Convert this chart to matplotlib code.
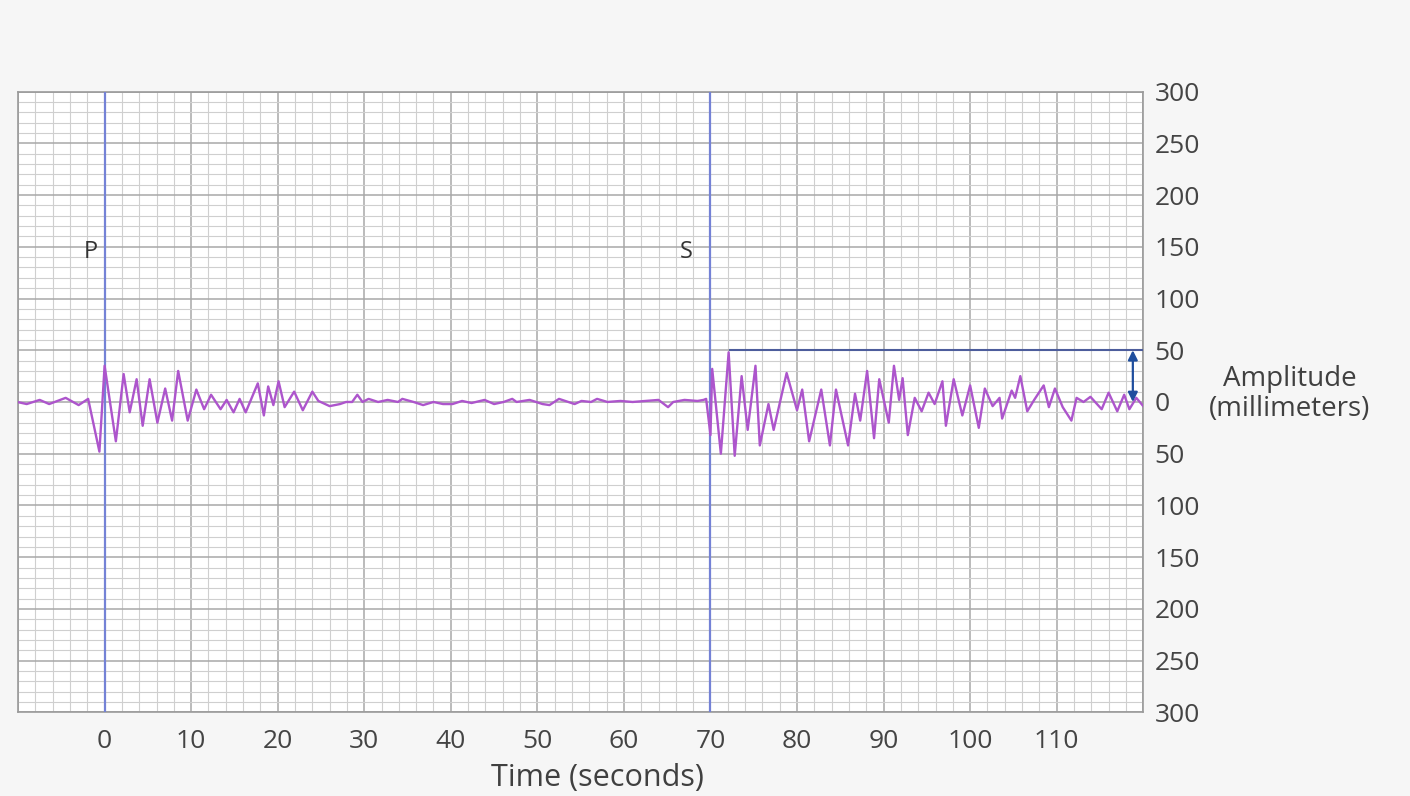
import numpy as np
import matplotlib
matplotlib.use("Agg")
import matplotlib.pyplot as plt

plt.rcParams['font.family'] = ['Open Sans', 'DejaVu Sans']

# Seismogram trace: time (s) and amplitude (mm)
t_p = [-10.1, -9.0, -7.5, -6.4, -4.5, -3.0, -1.9, -0.6, 0.0, 1.3, 2.2, 2.9, 3.7,
       4.4, 5.2, 6.1, 7.0, 7.8, 8.5, 9.6, 10.6, 11.5, 12.3, 13.4, 14.1, 14.9,
       15.6, 16.3, 17.7, 18.4, 18.9, 19.5, 20.1, 20.8, 21.9, 22.9, 24.0, 24.7]
a_p = [0, -2, 2, -2, 4, -3, 3, -48, 35, -38, 27, -10, 22,
       -23, 22, -20, 13, -18, 30, -18, 12, -7, 7, -7, 2, -10,
       3, -10, 18, -13, 15, -3, 20, -5, 10, -8, 10, 1]

t_quiet = [26.0, 27.2, 27.9, 28.6, 29.2, 29.8, 30.5, 31.6, 32.7, 33.9, 34.4, 35.7,
           36.8, 38.0, 39.1, 40.2, 41.3, 42.4, 43.9, 45.0, 46.1, 47.1, 47.6, 49.1,
           50.6, 51.4, 52.5, 53.6, 54.3, 55.1, 56.2, 56.9, 58.1, 59.6, 61.0, 62.5,
           64.0, 65.1, 65.7, 67.0, 68.5, 69.2]
a_quiet = [-4, -2, 0, 0, 7, 0, 3, 0, 2, 0, 3, 0,
           -3, 0, -2, -2, 1, -1, 2, -2, 0, 3, 0, 2,
           -2, -3, 3, 0, -2, 1, 0, 3, 0, 1, 0, 1,
           2, -5, 0, 2, 1, 2]

t_s = [69.5, 70.0, 70.2, 71.2, 72.1, 72.8, 73.6, 74.3, 75.2, 75.7, 76.7, 77.3,
       78.8, 80.0, 80.6, 81.4, 82.8, 83.8, 84.5, 85.9, 86.7, 87.3, 88.1, 88.9,
       89.5, 90.6, 91.2, 91.8, 92.2, 92.8, 93.6, 94.4, 95.2, 95.9, 96.8, 97.2,
       98.1, 99.1, 100.0, 101.0, 101.7, 102.6, 103.4, 103.7, 104.8, 105.2, 105.8,
       106.6, 107.4, 108.5, 109.1, 109.8, 110.7, 111.7, 112.3, 113.1, 113.9,
       115.2, 116.0, 117.0, 117.8, 118.4, 119.2, 120.0]
a_s = [3, -32, 32, -50, 48, -52, 25, -27, 35, -42, -2, -27,
       28, -8, 12, -38, 12, -42, 12, -42, 8, -18, 30, -35,
       22, -20, 35, 2, 23, -32, 4, -9, 9, -2, 20, -23,
       22, -13, 16, -25, 13, -4, 4, -16, 11, 4, 25,
       -9, 2, 16, -5, 13, -5, -18, 4, 0, 5,
       -7, 9, -9, 7, -7, 4, -4]

p_time = 0
s_time = 70
max_amp = 50

x_ticks = list(range(-10, 121, 10))
x_labels = ['' if v in (-10, 120) else str(v) for v in x_ticks]
y_ticks = list(range(-300, 301, 50))
y_labels = [str(abs(v)) for v in y_ticks]

t_all = t_p + t_quiet + t_s
a_all = a_p + a_quiet + a_s

fig = plt.figure(figsize=(14.10, 7.96), dpi=100, facecolor='#f6f6f6')
ax = fig.add_axes([0.0128, 0.105, 0.798, 0.78], facecolor='white')

ax.set_xlim(-10, 120)
ax.set_ylim(-300, 300)
ax.set_xticks(x_ticks)
ax.set_xticklabels(x_labels)
ax.set_xticks(np.arange(-10, 121, 2), minor=True)
ax.set_yticks(y_ticks)
ax.set_yticklabels(y_labels)
ax.set_yticks(np.arange(-300, 301, 10), minor=True)
ax.yaxis.tick_right()

ax.grid(which='minor', color='#cfcfcf', lw=0.8)
ax.grid(which='major', color='#a8a8a8', lw=1.1)
ax.set_axisbelow(True)
ax.tick_params(which='both', length=0, labelsize=19, labelcolor='#444444')
ax.tick_params(axis='x', pad=12)
ax.tick_params(axis='y', pad=8)
for sp in ax.spines.values():
    sp.set_color('#9a9a9a')
    sp.set_linewidth(1.2)

# arrival lines
ax.axvline(p_time, color='#7482d6', lw=1.6, zorder=3)
ax.axvline(s_time, color='#7482d6', lw=1.6, zorder=3)
ax.text(p_time - 0.8, 145, 'P', ha='right', va='center', fontsize=17, color='#333333')
ax.text(s_time - 2.0, 145, 'S', ha='right', va='center', fontsize=17, color='#333333')

ax.plot(t_all, a_all, color='#ad55cc', lw=1.7, zorder=4)

# max amplitude marker
peak_t = t_s[int(np.argmax(a_s))]
ax.hlines(max_amp, peak_t, 120, color='#4d5d9c', lw=1.5, zorder=5)
ax.annotate('', xy=(118.8, max_amp), xytext=(118.8, 0),
            arrowprops=dict(arrowstyle='<|-|>', color='#1f4e9e', lw=1.6,
                            mutation_scale=14, shrinkA=0, shrinkB=0), zorder=6)

fig.text(0.9145, 0.505, 'Amplitude\n(millimeters)', ha='center', va='center',
         fontsize=20, color='#404040', linespacing=1.1)
fig.text(0.424, 0.022, 'Time (seconds)', ha='center', va='center',
         fontsize=22, color='#404040')

fig.savefig('out.png', dpi=100, facecolor=fig.get_facecolor())
